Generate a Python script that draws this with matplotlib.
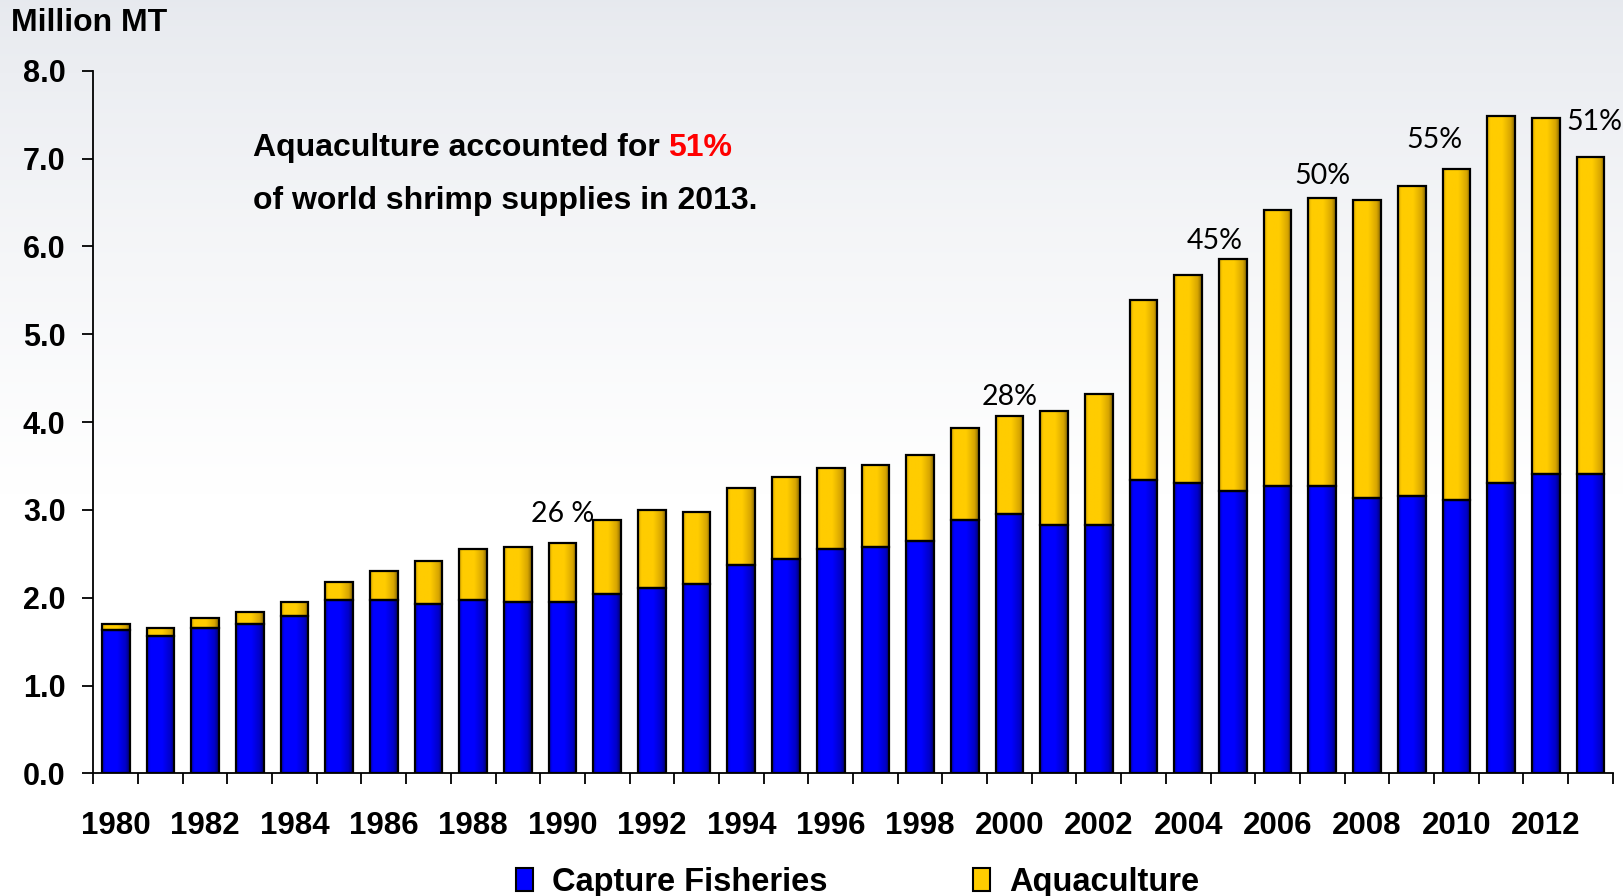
import numpy as np
import matplotlib
matplotlib.use("Agg")
import matplotlib.pyplot as plt
from matplotlib.colors import LinearSegmentedColormap
from matplotlib.patches import Patch
from matplotlib.ticker import FixedLocator, FormatStrFormatter

# World shrimp supply, million metric tons
years = list(range(1980, 2014))
capture = [1.63, 1.56, 1.65, 1.70, 1.79, 1.97, 1.97, 1.93, 1.97, 1.95,
           1.95, 2.04, 2.11, 2.16, 2.37, 2.44, 2.55, 2.58, 2.65, 2.88,
           2.95, 2.83, 2.83, 3.34, 3.30, 3.21, 3.27, 3.27, 3.14, 3.16,
           3.11, 3.30, 3.41, 3.41]
total = [1.70, 1.65, 1.77, 1.84, 1.95, 2.18, 2.30, 2.42, 2.55, 2.58,
         2.62, 2.88, 3.00, 2.98, 3.25, 3.37, 3.48, 3.51, 3.62, 3.93,
         4.07, 4.13, 4.32, 5.39, 5.67, 5.86, 6.41, 6.55, 6.53, 6.69,
         6.88, 7.48, 7.46, 7.02]
aquaculture = [t - c for t, c in zip(total, capture)]

share_years = [1990, 2000, 2005, 2007, 2010, 2013]
share_labels = ["26 %", "28%", "45%", "50%", "55%", "51%"]

BOLD = "Liberation Sans"
blue_cmap = LinearSegmentedColormap.from_list(
    "bluebar", [(0, "#0000b8"), (0.12, "#0000ff"), (0.55, "#0000ff"),
                (0.85, "#0000c8"), (1, "#000070")])
gold_cmap = LinearSegmentedColormap.from_list(
    "goldbar", [(0, "#d8a800"), (0.12, "#ffcc00"), (0.55, "#ffcc00"),
                (0.85, "#d8a600"), (1, "#8a6a00")])


def shade(ax, bars, cmap):
    """Lay a horizontal gradient over each bar, clipped to its rectangle."""
    grad = np.linspace(0, 1, 64).reshape(1, -1)
    for rect in bars:
        x0, y0 = rect.get_x(), rect.get_y()
        w, h = rect.get_width(), rect.get_height()
        im = ax.imshow(grad, extent=(x0, x0 + w, y0, y0 + h), cmap=cmap,
                       aspect="auto", interpolation="bilinear", zorder=2.5)
        im.set_clip_path(rect)


fig = plt.figure(figsize=(16.23, 8.96), dpi=100)

# faint haze across the top of the slide
bg = fig.add_axes([0, 0, 1, 1], zorder=-10)
haze = np.linspace(0, 1, 300).reshape(-1, 1)
haze = np.clip(haze / 0.55, 0, 1) ** 0.8
rgb = np.empty((300, 1, 3))
top = np.array([0.905, 0.915, 0.935])
for i in range(3):
    rgb[:, 0, i] = top[i] + (1 - top[i]) * haze[:, 0]
bg.imshow(rgb, aspect="auto", extent=(0, 1, 0, 1))
bg.axis("off")

ax = fig.add_axes([0.0575, 0.1369, 0.9362, 0.7842])
ax.set_facecolor("none")

width = 0.62
b1 = ax.bar(years, capture, width, color="#0000ff", linewidth=0, zorder=2)
b2 = ax.bar(years, aquaculture, width, bottom=capture, color="#ffcc00",
            linewidth=0, zorder=2)
shade(ax, b1, blue_cmap)
shade(ax, b2, gold_cmap)
ax.bar(years, capture, width, fill=False, edgecolor="black", linewidth=1.6,
       zorder=3)
ax.bar(years, aquaculture, width, bottom=capture, fill=False,
       edgecolor="black", linewidth=1.6, zorder=3)

ax.set_xlim(1979.5, 2013.5)
ax.set_ylim(0, 8)

for s in ["top", "right"]:
    ax.spines[s].set_visible(False)
for s in ["left", "bottom"]:
    ax.spines[s].set_linewidth(1.3)

ax.set_yticks(np.arange(0, 8.1, 1.0))
ax.yaxis.set_major_formatter(FormatStrFormatter("%.1f"))
ax.tick_params(axis="y", length=8, width=1.3, pad=12, labelsize=22)
for lab in ax.get_yticklabels():
    lab.set_fontfamily(BOLD)
    lab.set_fontweight("bold")

# ticks sit between the years, labels under every other bar
ax.xaxis.set_major_locator(FixedLocator(np.arange(1979.5, 2014, 1.0)))
ax.xaxis.set_major_formatter(plt.NullFormatter())
ax.xaxis.set_minor_locator(FixedLocator(years[::2]))
ax.set_xticklabels([str(y) for y in years[::2]], minor=True)
ax.tick_params(axis="x", which="major", length=8, width=1.3)
ax.tick_params(axis="x", which="minor", length=0, pad=27, labelsize=22.5)
for lab in ax.get_xticklabels(minor=True):
    lab.set_fontfamily(BOLD)
    lab.set_fontweight("bold")

# aquaculture share above selected bars
nudge_x = [0, 0, -0.4, 0, -0.5, 0.08]
nudge_y = [0.24, 0.12, 0.11, 0.16, 0.24, 0.30]
for yr, txt, dx, dy in zip(share_years, share_labels, nudge_x, nudge_y):
    ax.text(yr + dx, total[years.index(yr)] + dy, txt, ha="center",
            va="baseline", fontsize=20.5, family="Lato", zorder=4)

fig.text(0.0068, 0.965, "Million MT", fontsize=23, family=BOLD,
         weight="bold", va="baseline")

t1 = fig.text(0.1556, 0.8185, "Aquaculture accounted for ", fontsize=23,
              family=BOLD, weight="bold", va="bottom")
ax.annotate("51%", xy=(1, 0), xycoords=t1, va="bottom", ha="left",
            fontsize=23, family=BOLD, weight="bold", color="#ff0000")
fig.text(0.1556, 0.7589, "of world shrimp supplies in 2013.", fontsize=23,
         family=BOLD, weight="bold", va="bottom")

handles = [Patch(facecolor="#0000ff", edgecolor="black", linewidth=1.5),
           Patch(facecolor="#ffcc00", edgecolor="black", linewidth=1.5)]
fig.legend(handles, ["Capture Fisheries", "Aquaculture"], ncol=2,
           loc="center", bbox_to_anchor=(0.5285, 0.015), frameon=False,
           prop={"family": BOLD, "weight": "bold", "size": 23.5},
           handlelength=0.52, handleheight=0.72, handletextpad=0.6,
           columnspacing=4.45)

fig.savefig("out.png", dpi=100)
